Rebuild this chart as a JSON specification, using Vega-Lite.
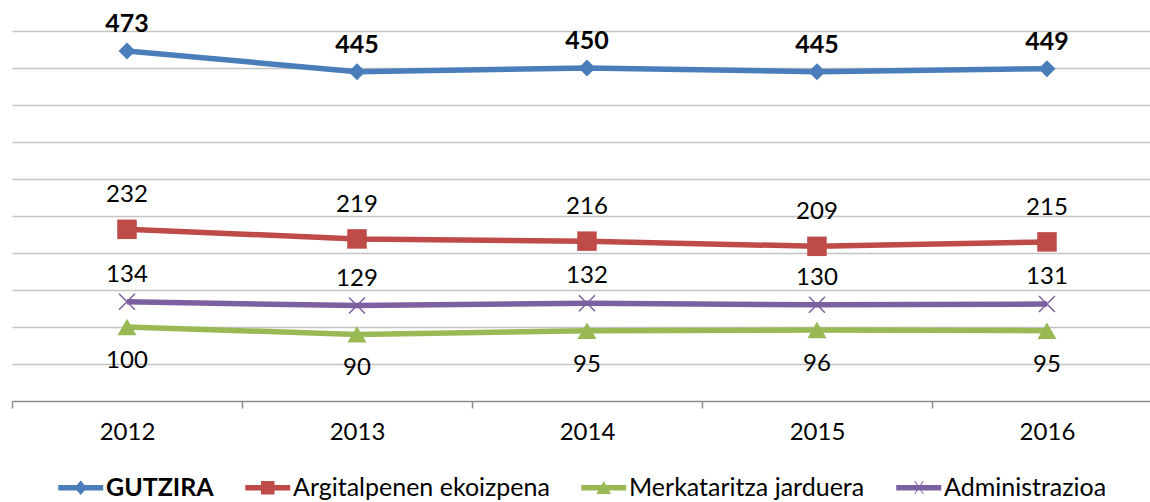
{
  "$schema": "https://vega.github.io/schema/vega-lite/v6.json",
  "width": 1138,
  "height": 400,
  "autosize": {"type": "none"},
  "padding": {"left": 12, "top": 1, "right": 0, "bottom": 101},
  "background": "white",
  "config": {"view": {"stroke": null}, "font": "Lato"},
  "data": {
    "values": [
      {"year": 2012, "series": "GUTZIRA", "value": 473},
      {"year": 2013, "series": "GUTZIRA", "value": 445},
      {"year": 2014, "series": "GUTZIRA", "value": 450},
      {"year": 2015, "series": "GUTZIRA", "value": 445},
      {"year": 2016, "series": "GUTZIRA", "value": 449},
      {"year": 2012, "series": "Argitalpenen ekoizpena", "value": 232},
      {"year": 2013, "series": "Argitalpenen ekoizpena", "value": 219},
      {"year": 2014, "series": "Argitalpenen ekoizpena", "value": 216},
      {"year": 2015, "series": "Argitalpenen ekoizpena", "value": 209},
      {"year": 2016, "series": "Argitalpenen ekoizpena", "value": 215},
      {"year": 2012, "series": "Merkataritza jarduera", "value": 100},
      {"year": 2013, "series": "Merkataritza jarduera", "value": 90},
      {"year": 2014, "series": "Merkataritza jarduera", "value": 95},
      {"year": 2015, "series": "Merkataritza jarduera", "value": 96},
      {"year": 2016, "series": "Merkataritza jarduera", "value": 95},
      {"year": 2012, "series": "Administrazioa", "value": 134},
      {"year": 2013, "series": "Administrazioa", "value": 129},
      {"year": 2014, "series": "Administrazioa", "value": 132},
      {"year": 2015, "series": "Administrazioa", "value": 130},
      {"year": 2016, "series": "Administrazioa", "value": 131}
    ]
  },
  "encoding": {
    "x": {
      "field": "year",
      "type": "quantitative",
      "scale": {"domain": [2011.5, 2016.448], "nice": false, "zero": false},
      "axis": {
        "values": [2011.5, 2012, 2012.5, 2013, 2013.5, 2014, 2014.5, 2015, 2015.5, 2016],
        "labelExpr": "datum.value % 1 == 0 ? format(datum.value, 'd') : ''",
        "tickOpacity": {"condition": {"test": "datum.value % 1 == 0", "value": 0}, "value": 1},
        "tickSize": 7,
        "tickWidth": 1.5,
        "tickColor": "#8c8c8c",
        "domainColor": "#8c8c8c",
        "domainWidth": 1.5,
        "labelFontSize": 24,
        "labelColor": "black",
        "labelPadding": 12,
        "labelFlush": false,
        "labelOverlap": false,
        "grid": false,
        "title": null
      }
    },
    "y": {
      "field": "value",
      "type": "quantitative",
      "scale": {"domain": [0, 540.5], "nice": false},
      "axis": {
        "values": [50, 100, 150, 200, 250, 300, 350, 400, 450, 500],
        "labels": false,
        "ticks": false,
        "domain": false,
        "title": null,
        "grid": true,
        "gridColor": "#c4c4c4",
        "gridWidth": 1.5
      }
    },
    "color": {
      "field": "series",
      "type": "nominal",
      "scale": {
        "domain": ["GUTZIRA", "Argitalpenen ekoizpena", "Merkataritza jarduera", "Administrazioa"],
        "range": ["#4a7ebb", "#be4b48", "#98b954", "#7d60a0"]
      },
      "legend": {
        "orient": "none",
        "legendX": 45,
        "legendY": 474,
        "direction": "horizontal",
        "title": null,
        "padding": 0,
        "labelFontSize": 25,
        "labelLimit": 0,
        "labelColor": "black",
        "symbolSize": 506,
        "labelOffset": 24,
        "columnPadding": 30,
        "encode": {
          "symbols": {
            "update": {
              "shape": {"signal": "datum.value == 'GUTZIRA' ? 'M-1,-0.24H3V0.24H-1ZM0.45,0L1,-0.65L1.55,0L1,0.65Z' : datum.value == 'Argitalpenen ekoizpena' ? 'M-1,-0.24H3V0.24H-1ZM0.4,-0.6H1.6V0.6H0.4Z' : datum.value == 'Merkataritza jarduera' ? 'M-1,-0.24H3V0.24H-1ZM1,-0.6L1.65,0.55H0.35Z' : 'M-1,-0.24H3V0.24H-1ZM0.6,-0.6L0.7,-0.6L1.45,0.55L1.35,0.55ZM1.35,-0.6L1.45,-0.6L0.7,0.55L0.6,0.55Z'"},
              "fill": {"signal": "scale('color', datum.value)"},
              "stroke": {"value": "transparent"},
              "strokeWidth": {"value": 0},
              "opacity": {"value": 1},
              "fillOpacity": {"value": 1}
            }
          },
          "labels": {
            "update": {
              "fontWeight": {"signal": "datum.value == 'GUTZIRA' ? 'bold' : 'normal'"}
            }
          }
        }
      }
    }
  },
  "layer": [
    {"mark": {"type": "line", "strokeWidth": 5.5}},
    {
      "transform": [{"filter": "datum.series == 'GUTZIRA'"}],
      "mark": {"type": "point", "shape": "diamond", "filled": true, "size": 290, "opacity": 1}
    },
    {
      "transform": [{"filter": "datum.series == 'Argitalpenen ekoizpena'"}],
      "mark": {"type": "point", "shape": "square", "filled": true, "size": 380, "opacity": 1}
    },
    {
      "transform": [{"filter": "datum.series == 'Merkataritza jarduera'"}],
      "mark": {"type": "point", "shape": "triangle-up", "filled": true, "size": 361, "opacity": 1}
    },
    {
      "transform": [{"filter": "datum.series == 'Administrazioa'"}],
      "mark": {"type": "point", "shape": "M-1,-1L1,1M1,-1L-1,1", "filled": false, "size": 256, "strokeWidth": 1.5, "opacity": 1}
    },
    {
      "transform": [{"filter": "datum.series == 'GUTZIRA'"}],
      "mark": {"type": "text", "dy": -27, "fontSize": 25, "fontWeight": "bold", "baseline": "middle"},
      "encoding": {"text": {"field": "value"}, "color": {"value": "black"}}
    },
    {
      "transform": [{"filter": "datum.series == 'Argitalpenen ekoizpena'"}],
      "mark": {"type": "text", "dy": -34, "fontSize": 24, "baseline": "middle"},
      "encoding": {"text": {"field": "value"}, "color": {"value": "black"}}
    },
    {
      "transform": [{"filter": "datum.series == 'Administrazioa'"}],
      "mark": {"type": "text", "dy": -27, "fontSize": 24, "baseline": "middle"},
      "encoding": {"text": {"field": "value"}, "color": {"value": "black"}}
    },
    {
      "transform": [{"filter": "datum.series == 'Merkataritza jarduera'"}],
      "mark": {"type": "text", "dy": 34, "fontSize": 24, "baseline": "middle"},
      "encoding": {"text": {"field": "value"}, "color": {"value": "black"}}
    }
  ]
}
